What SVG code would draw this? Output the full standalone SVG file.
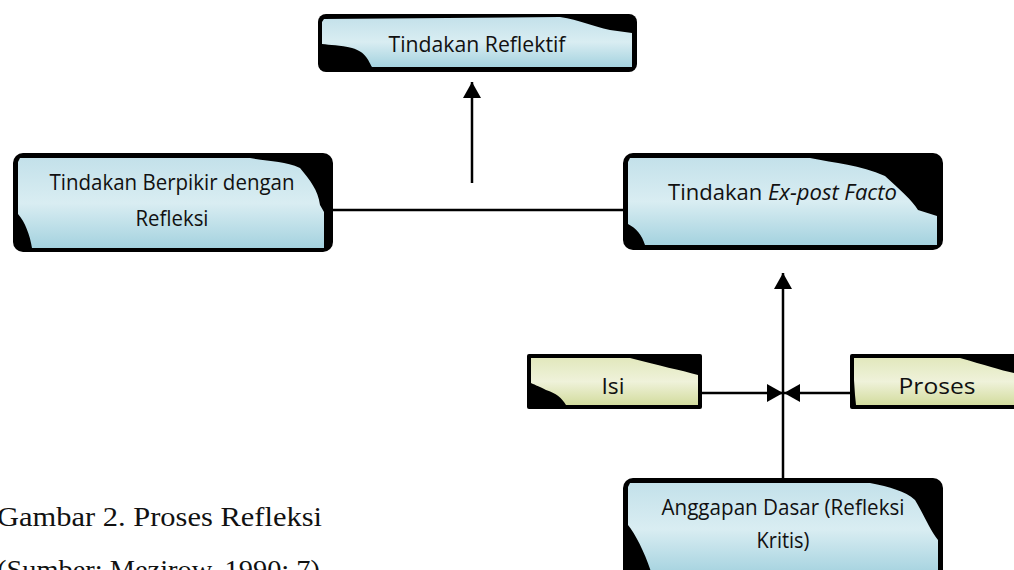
<svg xmlns="http://www.w3.org/2000/svg" width="1014" height="570" viewBox="0 0 1014 570">
<defs>
<linearGradient id="blue" x1="0" y1="0" x2="0" y2="1">
<stop offset="0" stop-color="#c3e1ea"/>
<stop offset="0.5" stop-color="#d9edf2"/>
<stop offset="1" stop-color="#a4d2df"/>
</linearGradient>
<linearGradient id="green" x1="0" y1="0" x2="0" y2="1">
<stop offset="0" stop-color="#e2e8bd"/>
<stop offset="0.5" stop-color="#eff2da"/>
<stop offset="1" stop-color="#d3dc9e"/>
</linearGradient>
<marker id="ah" markerWidth="16" markerHeight="18" refX="16" refY="9" orient="auto" markerUnits="userSpaceOnUse">
<path d="M0,0 L16,9 L0,18 Z" fill="#000"/>
</marker>
</defs>
<style>
.frame{fill:#000}
.blue{fill:url(#blue)}
.green{fill:url(#green)}
.t{font-family:"Open Sans","Liberation Sans",sans-serif;font-size:21px;fill:#111;text-anchor:middle}
.cap{font-family:"Liberation Serif","DejaVu Serif",serif;font-size:28px;fill:#111}
.ln{stroke:#000;stroke-width:2.5;fill:none}
</style>
<rect width="1014" height="570" fill="#fff"/>

<g id="connectors">
<line class="ln" x1="333" y1="210" x2="623" y2="210"/>
<line class="ln" x1="472" y1="183" x2="472" y2="82" marker-end="url(#ah)"/>
<line class="ln" x1="783" y1="478" x2="783" y2="273" marker-end="url(#ah)"/>
<line class="ln" x1="702" y1="393" x2="783" y2="393" marker-end="url(#ah)"/>
<line class="ln" x1="850" y1="393" x2="784" y2="393" marker-end="url(#ah)"/>
</g>

<g id="node-reflektif">
<rect class="frame" x="318" y="14" width="319" height="58" rx="8"/>
<path class="blue" d="M324,19 L560,17 C580,20 592,26 610,30 L632,33 L632,67 L372,67 C368,60 366,52 352,48 C340,45 330,45 322,44 L322,22 Z"/>
<text class="t" x="477" y="52" textLength="177" lengthAdjust="spacingAndGlyphs">Tindakan Reflektif</text>
</g>

<g id="node-berpikir">
<rect class="frame" x="13" y="153" width="320" height="99" rx="10"/>
<path class="blue" d="M20,158 L250,158 C270,162 285,161 300,168 C310,180 318,190 320,205 L324,212 L324,248 L32,248 C30,235 25,222 18,214 L18,162 Z"/>
<text class="t" x="172" y="190" textLength="245" lengthAdjust="spacingAndGlyphs">Tindakan Berpikir dengan</text>
<text class="t" x="172" y="226" textLength="73" lengthAdjust="spacingAndGlyphs">Refleksi</text>
</g>

<g id="node-expost">
<rect class="frame" x="623" y="153" width="320" height="97" rx="10"/>
<path class="blue" d="M630,158 L810,158 C835,163 860,165 885,176 C900,190 912,200 918,210 L937,216 L937,245 L645,245 C642,235 636,228 628,224 L628,162 Z"/>
<line x1="890" y1="246" x2="930" y2="246" stroke="#000" stroke-width="2"/>
<text class="t" x="668" y="200" style="text-anchor:start" textLength="229" lengthAdjust="spacingAndGlyphs">Tindakan  <tspan font-style="italic">Ex-post Facto</tspan></text>
</g>

<g id="node-isi">
<rect class="frame" x="527" y="354" width="175" height="55" rx="2"/>
<path class="green" d="M531,358 L630,358 C660,366 680,370 698,375 L698,405 L566,405 C562,398 556,393 546,390 C538,386 533,384 531,383 Z"/>
<text class="t" x="613" y="394" textLength="23" lengthAdjust="spacingAndGlyphs">Isi</text>
</g>

<g id="node-proses">
<rect class="frame" x="850" y="354" width="170" height="55" rx="2"/>
<path class="green" d="M854,358 L960,358 C985,365 1000,370 1014,373 L1014,405 L856,405 L855,395 L854,380 Z"/>
<text class="t" x="937" y="394" textLength="77" lengthAdjust="spacingAndGlyphs">Proses</text>
</g>

<g id="node-anggapan">
<rect class="frame" x="623" y="478" width="320" height="110" rx="10"/>
<path class="blue" d="M630,483 L870,483 C890,487 905,491 915,500 C924,515 930,530 938,540 L938,575 L652,575 C646,555 636,535 628,525 L628,487 Z"/>
<text class="t" x="783" y="515" textLength="243" lengthAdjust="spacingAndGlyphs">Anggapan Dasar (Refleksi</text>
<text class="t" x="783" y="548" textLength="53" lengthAdjust="spacingAndGlyphs">Kritis)</text>
</g>

<g id="caption">
<text class="cap" x="-3" y="526" textLength="325" lengthAdjust="spacingAndGlyphs">Gambar 2. Proses Refleksi</text>
<text class="cap" x="-3" y="579" textLength="323" lengthAdjust="spacingAndGlyphs">(Sumber: Mezirow, 1990: 7)</text>
</g>
</svg>
